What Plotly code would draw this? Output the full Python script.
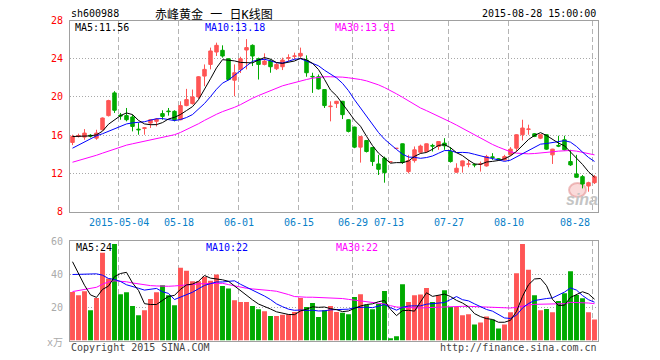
import plotly.graph_objects as go

# page is rendered with the default 8px body margin -> work in page pixels and subtract it
OFF = 8
W, H = 660 - OFF, 360 - OFF

# ---------------- data ----------------
date_labels = ["2015-05-04", "05-18", "06-01", "06-15", "06-29", "07-13", "07-27", "08-10", "08-28"]
date_label_idx = [8, 18, 28, 38, 47, 53, 63, 73, 87]

opens = [15.23, 15.85, 15.79, 15.98, 15.68, 16.56, 18.04, 20.42, 18.10, 18.04,
         17.90, 16.62, 16.70, 17.26, 17.44, 18.25, 18.52, 18.49, 17.61, 19.09,
         19.30, 20.00, 22.18, 23.40, 24.70, 24.88, 24.00, 21.75, 22.88, 24.91,
         25.40, 24.00, 23.40, 23.75, 22.95, 23.16, 24.05, 24.25, 24.28, 23.86,
         22.15, 22.11, 20.77, 18.98, 19.30, 19.54, 17.61, 16.84, 14.74, 15.44,
         14.70, 12.98, 13.58, 13.20, 14.61, 15.09, 12.18, 13.33, 14.20, 14.28,
         14.92, 14.81, 15.16, 14.28, 12.11, 12.77, 12.95, 12.92, 12.95, 12.77,
         13.72, 13.52, 13.40, 13.93, 14.63, 16.04, 16.60, 16.14, 15.68, 16.04,
         13.93, 14.92, 15.51, 13.23, 11.93, 11.65, 10.67, 11.02]
highs = [16.04, 16.15, 16.63, 16.10, 16.56, 17.85, 19.70, 20.60, 18.32, 18.84,
         18.14, 17.26, 16.84, 17.68, 17.79, 18.60, 18.84, 18.60, 19.54, 20.84,
         20.77, 22.18, 23.40, 25.16, 25.68, 25.40, 24.05, 23.40, 24.20, 26.05,
         25.50, 24.11, 24.56, 23.93, 23.58, 24.11, 24.46, 24.63, 25.16, 24.35,
         22.53, 22.35, 20.80, 19.54, 19.58, 19.58, 17.65, 16.88, 15.90, 15.48,
         14.74, 13.93, 13.75, 13.20, 14.61, 15.12, 13.93, 14.81, 15.00, 15.12,
         15.09, 15.36, 15.68, 14.74, 13.05, 13.33, 13.40, 13.05, 13.23, 13.93,
         14.11, 13.60, 13.93, 14.74, 16.10, 17.61, 17.09, 16.21, 16.11, 16.08,
         14.56, 15.93, 15.93, 14.46, 13.93, 11.82, 11.12, 11.82]
lows = [14.95, 15.75, 15.51, 15.75, 15.51, 16.50, 17.95, 18.32, 17.61, 17.44,
        16.39, 16.04, 16.04, 16.74, 16.91, 17.61, 18.04, 17.44, 17.55, 19.02,
        19.20, 19.80, 21.12, 22.88, 24.28, 24.11, 21.75, 20.07, 22.50, 22.88,
        23.23, 21.82, 23.30, 22.53, 22.81, 22.81, 23.75, 23.93, 24.11, 22.11,
        20.42, 20.77, 18.84, 17.44, 18.84, 17.68, 16.28, 14.63, 13.12, 14.18,
        12.77, 11.82, 11.02, 13.20, 14.61, 12.98, 12.00, 13.12, 14.10, 14.18,
        14.28, 14.46, 14.46, 13.12, 12.07, 12.07, 12.63, 12.63, 12.18, 12.70,
        13.40, 13.35, 13.33, 13.82, 14.28, 15.44, 16.04, 15.79, 15.58, 14.46,
        12.98, 14.74, 14.39, 12.77, 11.55, 10.42, 10.07, 10.88]
closes = [15.86, 15.95, 16.21, 15.90, 16.21, 17.79, 19.61, 18.60, 18.00, 17.61,
          16.91, 16.56, 16.76, 17.61, 17.68, 17.96, 18.46, 17.61, 19.09, 19.72,
          20.00, 22.11, 22.88, 24.81, 25.40, 24.28, 21.82, 22.53, 24.00, 25.16,
          24.28, 23.40, 23.75, 23.16, 23.40, 23.86, 24.11, 24.28, 24.56, 22.53,
          22.11, 20.84, 19.09, 19.02, 19.54, 18.14, 16.39, 14.74, 15.86, 14.28,
          13.23, 12.42, 12.07, 13.20, 14.61, 13.15, 13.33, 14.46, 14.85, 15.09,
          14.85, 15.33, 14.88, 13.23, 12.53, 13.30, 12.98, 12.88, 12.98, 13.75,
          13.66, 13.45, 13.75, 14.53, 16.04, 16.74, 16.63, 15.86, 16.04, 14.53,
          14.53, 14.85, 14.46, 12.88, 11.58, 10.88, 11.02, 11.65]

ma5 = [15.85, 15.87, 15.88, 15.92, 16.03, 16.41, 17.14, 17.62, 18.04, 18.32,
       18.15, 17.54, 17.17, 17.09, 17.10, 17.31, 17.69, 17.86, 18.16, 18.57,
       18.98, 19.71, 20.76, 21.90, 23.04, 23.90, 23.84, 23.77, 23.61, 23.56,
       23.56, 23.87, 24.12, 23.95, 23.60, 23.51, 23.66, 23.76, 24.04, 23.87,
       23.52, 22.86, 21.83, 20.72, 20.12, 19.33, 18.44, 17.57, 16.93, 15.88,
       14.90, 14.11, 13.57, 13.06, 13.12, 13.11, 13.29, 13.77, 14.08, 14.18,
       14.52, 14.92, 15.00, 14.68, 14.16, 13.85, 13.38, 12.98, 12.93, 13.18,
       13.25, 13.34, 13.52, 13.83, 14.29, 14.90, 15.54, 15.96, 16.26, 15.96,
       15.52, 15.16, 14.88, 14.25, 13.66, 12.93, 12.16, 11.60]
ma10 = [14.63, 14.95, 15.30, 15.61, 15.93, 16.14, 16.39, 16.70, 16.91, 17.17,
        17.28, 17.34, 17.40, 17.57, 17.71, 17.73, 17.62, 17.52, 17.63, 17.84,
        18.15, 18.70, 19.31, 20.03, 20.80, 21.44, 21.77, 22.26, 22.76, 23.30,
        23.73, 23.86, 23.94, 23.78, 23.58, 23.54, 23.77, 23.94, 24.00, 23.73,
        23.52, 23.26, 22.79, 22.38, 21.99, 21.42, 20.65, 19.70, 18.83, 18.00,
        17.11, 16.27, 15.57, 15.00, 14.50, 14.00, 13.70, 13.67, 13.57, 13.65,
        13.81, 14.10, 14.38, 14.38, 14.17, 14.19, 14.15, 13.99, 13.81, 13.67,
        13.55, 13.36, 13.25, 13.38, 13.73, 14.08, 14.44, 14.74, 15.05, 15.12,
        15.21, 15.35, 15.42, 15.26, 14.81, 14.22, 13.66, 13.24]
ma30 = [13.16, 13.33, 13.51, 13.68, 13.89, 14.11, 14.32, 14.60, 14.81, 14.95,
        15.09, 15.23, 15.33, 15.44, 15.58, 15.72, 15.86, 16.04, 16.28, 16.56,
        16.84, 17.19, 17.54, 17.89, 18.18, 18.46, 18.67, 18.91, 19.19, 19.54,
        19.86, 20.14, 20.39, 20.70, 20.95, 21.16, 21.33, 21.51, 21.68, 21.82,
        21.96, 22.07, 22.11, 22.11, 22.11, 22.07, 22.00, 21.93, 21.82, 21.68,
        21.51, 21.26, 20.98, 20.67, 20.32, 19.96, 19.58, 19.16, 18.84, 18.56,
        18.28, 18.00, 17.68, 17.37, 17.05, 16.70, 16.35, 16.00, 15.65, 15.33,
        15.02, 14.74, 14.46, 14.25, 14.11, 14.04, 14.04, 14.07, 14.11, 14.18,
        14.25, 14.32, 14.39, 14.39, 14.32, 14.21, 14.07, 13.93]

volumes = [29.3, 27.3, 29.7, 18.2, 25.7, 52.9, 37.4, 58.2, 27.9, 29.1,
           20.8, 15.2, 18.2, 25.1, 29.1, 33.3, 27.3, 21.2, 43.8, 42.0,
           35.8, 35.8, 38.4, 36.0, 39.8, 32.9, 31.3, 24.2, 23.2, 23.2,
           20.8, 18.8, 17.6, 14.7, 14.7, 15.6, 15.8, 17.2, 25.7, 20.2,
           22.6, 14.1, 18.2, 20.8, 17.2, 16.8, 15.8, 26.3, 27.9, 21.6,
           18.8, 22.2, 29.9, 1.4, 2.6, 33.9, 23.2, 27.3, 27.7, 31.7,
           23.2, 27.3, 30.3, 20.2, 20.2, 15.2, 15.8, 9.7, 10.9, 14.5,
           12.7, 7.3, 9.7, 17.0, 40.6, 58.2, 42.6, 27.3, 18.2, 19.0,
           17.0, 23.8, 28.5, 41.8, 27.5, 25.5, 17.0, 12.7]
vol_ma5 = [47.5, 40.4, 33.3, 27.5, 26.0, 30.8, 32.8, 38.5, 40.4, 41.1,
           34.7, 30.2, 22.2, 21.7, 21.7, 24.2, 26.6, 27.2, 30.9, 33.5,
           34.0, 35.7, 39.2, 37.6, 37.2, 36.6, 35.7, 32.8, 30.3, 27.0,
           24.5, 22.0, 20.7, 19.0, 17.3, 16.3, 15.7, 15.6, 17.8, 18.9,
           20.3, 20.0, 20.2, 19.2, 18.6, 17.4, 17.8, 19.4, 20.8, 21.7,
           22.1, 23.4, 24.1, 18.8, 15.0, 18.0, 18.2, 17.7, 22.9, 28.8,
           26.6, 27.4, 28.0, 26.5, 24.2, 22.6, 20.3, 16.2, 14.4, 13.2,
           12.7, 11.0, 11.0, 12.2, 17.5, 26.6, 33.6, 37.1, 37.4, 33.1,
           24.8, 21.1, 21.3, 26.0, 27.7, 29.4, 28.1, 24.9]
vol_ma10 = [39.8, 39.8, 40.0, 40.2, 40.2, 39.4, 37.4, 36.8, 35.6, 33.6,
            32.7, 31.5, 30.4, 31.1, 31.4, 29.4, 28.4, 24.7, 26.3, 27.6,
            29.1, 31.2, 33.2, 34.3, 35.3, 35.3, 35.7, 36.0, 33.9, 32.1,
            30.6, 28.9, 26.8, 24.7, 22.1, 20.4, 18.9, 18.2, 18.4, 18.1,
            18.3, 17.8, 17.9, 18.5, 18.7, 18.9, 18.9, 19.8, 20.0, 20.1,
            19.8, 20.6, 21.7, 19.8, 18.3, 20.0, 20.8, 20.9, 20.9, 21.9,
            22.3, 22.8, 22.9, 24.7, 26.5, 24.6, 23.9, 22.1, 20.5, 18.7,
            17.7, 15.7, 13.6, 13.3, 15.3, 19.6, 22.3, 24.1, 24.8, 25.3,
            25.7, 27.3, 29.2, 31.7, 30.4, 27.1, 24.6, 23.1]
vol_ma30 = [29.5, 30.1, 30.7, 31.1, 32.1, 33.9, 35.4, 36.0, 35.8, 35.4,
            34.7, 34.1, 33.5, 33.1, 32.9, 32.7, 32.7, 32.9, 33.3, 33.7,
            33.9, 34.1, 34.3, 34.3, 34.5, 34.5, 33.7, 32.9, 31.9, 31.5,
            31.1, 30.9, 30.5, 30.1, 29.7, 28.9, 27.7, 26.5, 26.1, 26.1,
            26.1, 25.9, 25.9, 25.9, 25.5, 25.3, 24.8, 24.4, 24.0, 23.4,
            23.0, 22.6, 22.0, 21.0, 20.2, 20.0, 19.8, 19.6, 19.6, 19.8,
            20.0, 20.2, 20.4, 20.6, 20.6, 20.6, 20.6, 20.4, 20.4, 20.2,
            20.0, 19.8, 19.6, 19.6, 20.0, 20.8, 21.4, 21.8, 21.8, 21.8,
            21.8, 21.8, 22.2, 23.0, 23.0, 22.8, 22.6, 22.2]

price_ticks = [8, 12, 16, 20, 24, 28]
vol_ticks = [20, 40, 60]

title_code = "sh600988"
title_name = "赤峰黄金 一 日K线图"
title_time = "2015-08-28 15:00:00"
price_legend = ["MA5:11.56", "MA10:13.18", "MA30:13.91"]
vol_legend = ["MA5:24", "MA10:22", "MA30:22"]

# ---------------- styling ----------------
RED = "#ff5555"
GREEN = "#00aa00"
C_MA5, C_MA10, C_MA30 = "#000000", "#0000ff", "#ff00ff"
BORDER = "#a0a0a0"
VGRID = "#b4b4b4"
HGRID = "#a8a8a8"
MONO = "DejaVu Sans Mono, Liberation Mono, monospace"
MIXED = "DejaVu Sans Mono, Noto Sans CJK SC, sans-serif"

n = len(closes)
idx = list(range(n))

# page-pixel geometry of the two panels
X0, X1 = 70, 598
PT, PB = 20.5, 211.5
VT, VB = 241, 340.5
slot = (X1 - X0) / n
r0 = -(2.5 / slot)
xr = [r0, r0 + n]


def fx(px):
    return (px - OFF) / W


def fy(py):
    return 1 - (py - OFF) / H


grid_x = [d - 0.3 for d in date_label_idx]

fig = go.Figure()

fig.add_trace(go.Candlestick(
    x=idx, open=opens, high=highs, low=lows, close=closes,
    increasing=dict(line=dict(color=RED, width=1), fillcolor=RED),
    decreasing=dict(line=dict(color=GREEN, width=1), fillcolor=GREEN),
    whiskerwidth=0, showlegend=False, xaxis="x", yaxis="y", hoverinfo="skip"))

for arr, col in [(ma30, C_MA30), (ma10, C_MA10), (ma5, C_MA5)]:
    fig.add_trace(go.Scatter(x=idx, y=arr, mode="lines", line=dict(color=col, width=1),
                             showlegend=False, xaxis="x", yaxis="y", hoverinfo="skip"))

vol_colors = [RED if c > o else GREEN for o, c in zip(opens, closes)]
fig.add_trace(go.Bar(x=idx, y=volumes, marker=dict(color=vol_colors, line=dict(width=0)),
                     width=0.82, showlegend=False, xaxis="x2", yaxis="y2", hoverinfo="skip"))

for arr, col in [(vol_ma30, C_MA30), (vol_ma10, C_MA10), (vol_ma5, C_MA5)]:
    fig.add_trace(go.Scatter(x=idx, y=arr, mode="lines", line=dict(color=col, width=1),
                             showlegend=False, xaxis="x2", yaxis="y2", hoverinfo="skip"))

xcommon = dict(range=xr, showgrid=True, gridcolor=VGRID, griddash="5px,3px", gridwidth=1,
               tickmode="array", tickvals=grid_x, showticklabels=False, ticks="",
               showline=True, mirror=True, linecolor=BORDER, linewidth=1, zeroline=False,
               domain=[fx(X0), fx(X1)], fixedrange=True)

fig.update_layout(
    width=W, height=H, template="none",
    margin=dict(l=0, r=0, t=0, b=0, pad=0),
    paper_bgcolor="white", plot_bgcolor="white",
    showlegend=False, hovermode=False, boxgap=0.17,
    font=dict(family=MONO, size=10, color="#000"),
    xaxis=dict(**xcommon, anchor="y", rangeslider=dict(visible=False)),
    xaxis2=dict(**xcommon, anchor="y2", matches="x"),
    yaxis=dict(domain=[fy(PB), fy(PT)], range=[8, 28], tickmode="array", tickvals=price_ticks,
               tickfont=dict(family=MONO, size=10, color="#ff0000"),
               ticks="outside", ticklen=4, tickcolor="rgba(0,0,0,0)",
               showgrid=True, gridcolor=HGRID, griddash="1px,2px", gridwidth=1,
               showline=True, mirror=True, linecolor=BORDER, linewidth=1, zeroline=False,
               anchor="x", fixedrange=True),
    yaxis2=dict(domain=[fy(VB), fy(VT)], range=[0, 60], tickmode="array", tickvals=vol_ticks,
                tickfont=dict(family=MONO, size=10, color="#aaaaaa"),
                ticks="outside", ticklen=4, tickcolor="rgba(0,0,0,0)",
                showgrid=True, gridcolor=HGRID, griddash="1px,2px", gridwidth=1,
                showline=True, mirror=True, linecolor=BORDER, linewidth=1, zeroline=False,
                anchor="x2", fixedrange=True),
)

ann = []


def text(s, px, py, xanchor="left", color="#000", size=10, family=MONO, **kw):
    ann.append(dict(text=s, x=fx(px), y=fy(py), xref="paper", yref="paper",
                    xanchor=xanchor, yanchor="middle", showarrow=False,
                    font=dict(family=family, size=size, color=color), **kw))


text(title_code, 69, 13.5)
text(title_name, 214, 14.8, xanchor="center", size=12, family=MIXED, borderpad=0)
text(title_time, 598, 13.5, xanchor="right")

for s, px, col in zip(price_legend, [74, 204, 334], [C_MA5, C_MA10, C_MA30]):
    text(s, px, 28, color=col, borderpad=0)
for s, px, col in zip(vol_legend, [74, 204, 334], [C_MA5, C_MA10, C_MA30]):
    text(s, px, 247, color=col)

# date labels under the price panel
for k, (lab, d) in enumerate(zip(date_labels, date_label_idx)):
    last = k == len(date_labels) - 1
    ann.append(dict(text=lab, x=d - 0.3, y=fy(222), xref="x", yref="paper",
                    xanchor="right" if last else "center", yanchor="middle",
                    xshift=-1 if last else 0, showarrow=False,
                    font=dict(family=MONO, size=10, color="#0a7fc8")))

text("x万", 65, 342, xanchor="right", color="#aaaaaa", family=MIXED)
text("Copyright 2015 SINA.COM", 69, 347, color="#444444")
text("http://finance.sina.com.cn", 599, 347, xanchor="right", color="#444444")
text("<b><i>sina</i></b>", 582, 199, xanchor="center", color="#c4c4c4", size=16,
     family="Liberation Sans, Arial, sans-serif")

fig.update_layout(annotations=ann)

# faint "eye" of the sina watermark
fig.add_shape(type="circle", xref="paper", yref="paper",
              x0=fx(569), x1=fx(586), y0=fy(197), y1=fy(183),
              fillcolor="rgba(240,150,150,0.35)", line=dict(color="rgba(220,120,120,0.45)", width=2),
              layer="below")

fig.write_html("out.html")
